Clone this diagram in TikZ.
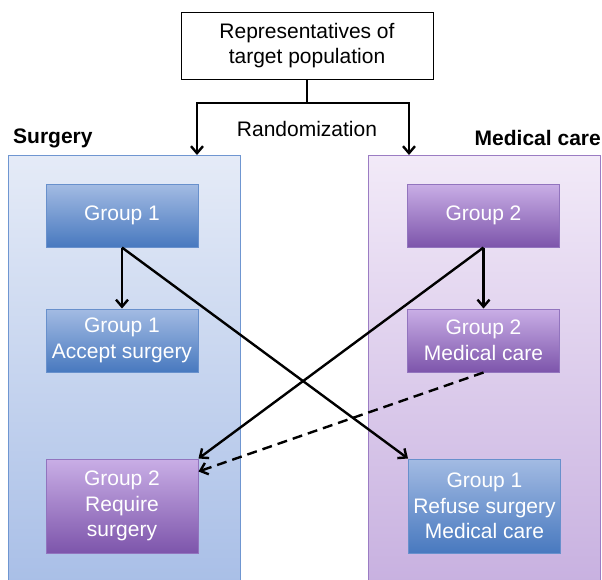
\documentclass[tikz,border=0pt]{standalone}
\usepackage{fontspec}
\setmainfont{Liberation Sans}
\usetikzlibrary{arrows.meta}
\definecolor{contBlueTop}{HTML}{E5EBF7}
\definecolor{contBlueBot}{HTML}{A9BFE7}
\definecolor{contBlueLine}{HTML}{6F96D1}
\definecolor{contPurTop}{HTML}{F2EAF8}
\definecolor{contPurBot}{HTML}{C8B1E0}
\definecolor{contPurLine}{HTML}{9B7CC3}
\definecolor{boxBlueTop}{HTML}{A3BBE3}
\definecolor{boxBlueBot}{HTML}{4879BF}
\definecolor{boxBlueLine}{HTML}{6890CC}
\definecolor{boxPurTop}{HTML}{C9AEE6}
\definecolor{boxPurBot}{HTML}{7D55AB}
\definecolor{boxPurLine}{HTML}{9274BE}
\tikzset{
  txt/.style={font=\fontsize{21}{25.5}\selectfont, align=center},
  container/.style={draw, line width=1pt, minimum width=232pt, minimum height=427pt, inner sep=0pt},
  bluecont/.style={container, draw=contBlueLine, top color=contBlueTop, bottom color=contBlueBot},
  purcont/.style={container, draw=contPurLine, top color=contPurTop, bottom color=contPurBot},
  grpbox/.style={txt, text=white, line width=1pt, minimum width=152pt, inner sep=0pt},
  bluebox/.style={grpbox, draw=boxBlueLine, top color=boxBlueTop, bottom color=boxBlueBot},
  purbox/.style={grpbox, draw=boxPurLine, top color=boxPurTop, bottom color=boxPurBot},
  tip/.style={-{Straight Barb[length=7pt,width=12pt,line width=2.4pt]}},
  arr/.style={line width=2.4pt, tip},
  plain/.style={line width=2.4pt}
}
\begin{document}
\begin{tikzpicture}[x=1pt,y=-1pt]
\useasboundingbox (0,0) rectangle (602,579);
% containers
\node[bluecont] (surg) at (124,368.5) {};
\node[purcont] (med) at (484,368.5) {};
% labels
\node[txt, font=\fontsize{21}{25}\selectfont\bfseries, anchor=west, inner sep=0pt] (surglbl) at (13,138) {Surgery};
\node[txt, font=\fontsize{21}{25}\selectfont\bfseries, anchor=east, inner sep=0pt] (medlbl) at (601,138) {Medical care};
% top box
\node[txt, draw, line width=1pt, fill=white, minimum width=252pt, minimum height=67pt, inner sep=0pt] (pop) at (307,45.5) {Representatives of\\target population};
\node[txt, inner sep=0pt] (rand) at (307,129) {Randomization};
% group boxes
\node[bluebox, minimum height=63pt] (g1) at (122,215.5) {Group 1};
\node[bluebox, minimum height=63pt] (g1a) at (122,340.5) {Group 1\\Accept surgery};
\node[purbox, minimum height=63pt] (g2) at (483.5,215.5) {Group 2};
\node[purbox, minimum height=63pt] (g2m) at (483.5,340.5) {Group 2\\Medical care};
\node[purbox, minimum height=94pt] (g2r) at (122,506) {Group 2\\Require\\surgery};
\node[bluebox, minimum height=94pt] (g1r) at (484.5,506) {Group 1\\Refuse surgery\\Medical care};
% randomization connectors
\coordinate (split) at (307,103);
\coordinate (lend) at (197,155);
\coordinate (rend) at (409,155);
\draw[plain] (pop.south) -- (split);
\draw[arr] (split) -| (lend);
\draw[arr] (split) -| (rend);
% group connectors
\draw[arr] (g1.south) -- (g1a.north);
\draw[arr] (g2.south) -- (g2m.north);
\draw[arr] (g1.south) -- (g1r.north west);
\draw[arr] (g2.south) -- (g2r.north east);
\draw[line width=2.4pt, dash pattern=on 10pt off 6pt, tip] (g2m.south) -- ([yshift=-13pt]g2r.north east);
\end{tikzpicture}
\end{document}
